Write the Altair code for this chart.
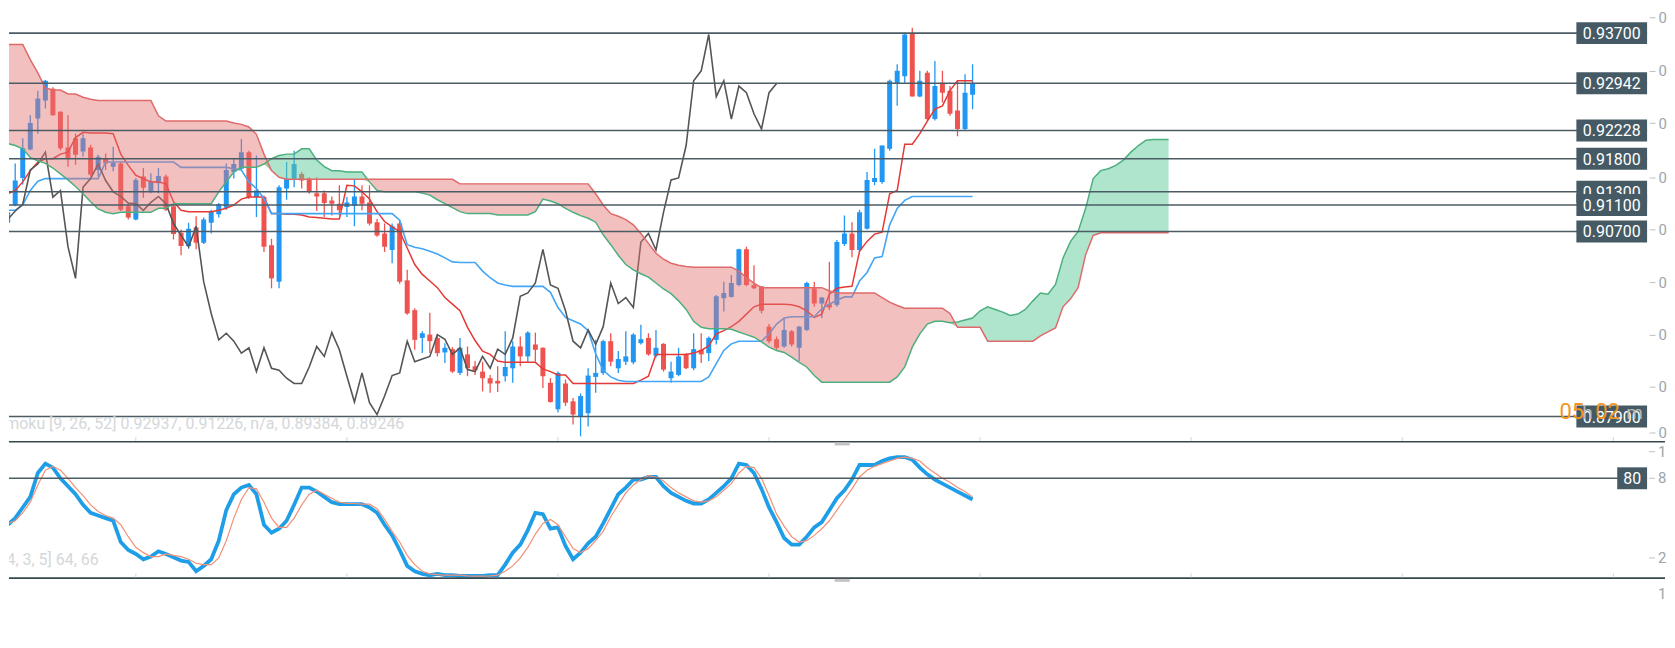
import altair as alt
import pandas as pd

# ---------------- data ----------------
OPEN = [0.9128, 0.9083, 0.9110, 0.9151, 0.9194, 0.9241, 0.9268, 0.9286, 0.9251, 0.9197,
        0.9211, 0.9191, 0.9197, 0.9163, 0.9181, 0.9168, 0.9173, 0.9108, 0.9088, 0.9153,
        0.9131, 0.9143, 0.9153, 0.9108, 0.9068, 0.9048, 0.9076, 0.9053, 0.9083, 0.9096,
        0.9106, 0.9160, 0.9165, 0.9190, 0.9122, 0.9122, 0.9049, 0.8994, 0.9135, 0.9148,
        0.9157, 0.9150, 0.9128, 0.9128, 0.9117, 0.9112, 0.9107, 0.9109, 0.9123, 0.9114,
        0.9084, 0.9067, 0.9042, 0.9082, 0.8996, 0.8951, 0.8909, 0.8914, 0.8909, 0.8887,
        0.8892, 0.8856, 0.8884, 0.8866, 0.8858, 0.8848, 0.8844, 0.8851, 0.8863, 0.8896,
        0.8881, 0.8899, 0.8894, 0.8841, 0.8801, 0.8840, 0.8813, 0.8790, 0.8795, 0.8850,
        0.8856, 0.8904, 0.8863, 0.8873, 0.8872, 0.8901, 0.8909, 0.8882, 0.8900, 0.8848,
        0.8853, 0.8884, 0.8863, 0.8891, 0.8886, 0.8906, 0.8969, 0.8971, 0.8989, 0.9043,
        0.8989, 0.8987, 0.8926, 0.8907, 0.8896, 0.8919, 0.8894, 0.8921, 0.8984, 0.8961,
        0.8960, 0.8959, 0.9051, 0.9067, 0.9042, 0.9074, 0.9145, 0.9145, 0.9195, 0.9293,
        0.9305, 0.9369, 0.9274, 0.9310, 0.9240, 0.9295, 0.9283, 0.9253, 0.9225, 0.9277]
HIGH = [0.9133, 0.9116, 0.9173, 0.9211, 0.9246, 0.9283, 0.9299, 0.9288, 0.9252, 0.9246,
        0.9218, 0.9218, 0.9201, 0.9186, 0.9188, 0.9198, 0.9176, 0.9113, 0.9151, 0.9166,
        0.9158, 0.9166, 0.9156, 0.9111, 0.9073, 0.9083, 0.9093, 0.9091, 0.9103, 0.9113,
        0.9173, 0.9181, 0.9210, 0.9192, 0.9185, 0.9124, 0.9059, 0.9140, 0.9175, 0.9192,
        0.9160, 0.9152, 0.9152, 0.9132, 0.9123, 0.9140, 0.9122, 0.9148, 0.9140, 0.9140,
        0.9089, 0.9082, 0.9082, 0.9087, 0.9012, 0.8954, 0.8919, 0.8947, 0.8914, 0.8901,
        0.8895, 0.8909, 0.8896, 0.8874, 0.8873, 0.8853, 0.8866, 0.8919, 0.8904, 0.8911,
        0.8919, 0.8917, 0.8895, 0.8848, 0.8858, 0.8846, 0.8818, 0.8825, 0.8863, 0.8906,
        0.8906, 0.8916, 0.8889, 0.8919, 0.8916, 0.8929, 0.8916, 0.8921, 0.8901, 0.8873,
        0.8894, 0.8886, 0.8916, 0.8916, 0.8911, 0.8974, 0.8994, 0.9004, 0.9044, 0.9047,
        0.9019, 0.8987, 0.8930, 0.8911, 0.8939, 0.8921, 0.8927, 0.8994, 0.8994, 0.8971,
        0.9024, 0.9057, 0.9094, 0.9084, 0.9103, 0.9160, 0.9195, 0.9200, 0.9300, 0.9323,
        0.9371, 0.9378, 0.9313, 0.9313, 0.9328, 0.9313, 0.9290, 0.9298, 0.9308, 0.9323]
LOW = [0.9096, 0.9078, 0.9108, 0.9141, 0.9193, 0.9218, 0.9256, 0.9245, 0.9193, 0.9168,
       0.9171, 0.9183, 0.9153, 0.9153, 0.9163, 0.9161, 0.9101, 0.9088, 0.9087, 0.9121,
       0.9128, 0.9128, 0.9101, 0.9058, 0.9034, 0.9044, 0.9043, 0.9051, 0.9067, 0.9091,
       0.9103, 0.9150, 0.9162, 0.9119, 0.9092, 0.9039, 0.8984, 0.8984, 0.9118, 0.9137,
       0.9135, 0.9127, 0.9101, 0.9092, 0.9094, 0.9094, 0.9092, 0.9078, 0.9102, 0.9079,
       0.9062, 0.9039, 0.9022, 0.8991, 0.8944, 0.8891, 0.8886, 0.8886, 0.8881, 0.8871,
       0.8856, 0.8853, 0.8851, 0.8853, 0.8828, 0.8826, 0.8827, 0.8843, 0.8841, 0.8866,
       0.8871, 0.8873, 0.8833, 0.8811, 0.8796, 0.8806, 0.8778, 0.8760, 0.8775, 0.8826,
       0.8853, 0.8866, 0.8856, 0.8868, 0.8869, 0.8899, 0.8882, 0.8879, 0.8858, 0.8841,
       0.8851, 0.8862, 0.8860, 0.8871, 0.8874, 0.8899, 0.8949, 0.8970, 0.8987, 0.8987,
       0.8983, 0.8946, 0.8901, 0.8891, 0.8894, 0.8896, 0.8874, 0.8919, 0.8956, 0.8939,
       0.8951, 0.8956, 0.9048, 0.9031, 0.9039, 0.9073, 0.9140, 0.9142, 0.9192, 0.9260,
       0.9295, 0.9274, 0.9273, 0.9238, 0.9238, 0.9265, 0.9245, 0.9214, 0.9222, 0.9255]
CLOSE = [0.9103, 0.9099, 0.9147, 0.9196, 0.9234, 0.9271, 0.9298, 0.9246, 0.9196, 0.9181,
         0.9186, 0.9211, 0.9156, 0.9183, 0.9173, 0.9174, 0.9103, 0.9091, 0.9148, 0.9136,
         0.9146, 0.9154, 0.9103, 0.9066, 0.9048, 0.9074, 0.9053, 0.9088, 0.9101, 0.9111,
         0.9163, 0.9172, 0.9190, 0.9122, 0.9132, 0.9047, 0.8999, 0.9137, 0.9150, 0.9172,
         0.9147, 0.9130, 0.9123, 0.9113, 0.9112, 0.9102, 0.9114, 0.9123, 0.9112, 0.9082,
         0.9064, 0.9047, 0.9078, 0.8994, 0.8946, 0.8906, 0.8916, 0.8904, 0.8886, 0.8894,
         0.8858, 0.8894, 0.8863, 0.8860, 0.8848, 0.8840, 0.8840, 0.8865, 0.8896, 0.8881,
         0.8917, 0.8891, 0.8851, 0.8812, 0.8856, 0.8811, 0.8793, 0.8821, 0.8852, 0.8856,
         0.8904, 0.8873, 0.8877, 0.8881, 0.8914, 0.8907, 0.8884, 0.8894, 0.8861, 0.8858,
         0.8881, 0.8863, 0.8892, 0.8884, 0.8909, 0.8972, 0.8977, 0.8992, 0.9043, 0.8989,
         0.8984, 0.8950, 0.8904, 0.8894, 0.8921, 0.8899, 0.8926, 0.8992, 0.8961, 0.8970,
         0.8955, 0.9054, 0.9067, 0.9042, 0.9099, 0.9148, 0.9151, 0.9200, 0.9298, 0.9313,
         0.9368, 0.9274, 0.9298, 0.9240, 0.9290, 0.9280, 0.9248, 0.9225, 0.9280, 0.9294]
TENKAN = [0.9127, 0.9127, 0.9132, 0.9145, 0.9162, 0.9175, 0.9180, 0.9180, 0.9187, 0.9190,
          0.9212, 0.9220, 0.9219, 0.9219, 0.9219, 0.9218, 0.9187, 0.9170, 0.9155, 0.9150,
          0.9145, 0.9145, 0.9142, 0.9115, 0.9102, 0.9100, 0.9100, 0.9100, 0.9100, 0.9102,
          0.9105, 0.9110, 0.9119, 0.9122, 0.9122, 0.9122, 0.9097, 0.9097, 0.9096, 0.9096,
          0.9095, 0.9092, 0.9091, 0.9090, 0.9089, 0.9089, 0.9140, 0.9139, 0.9130, 0.9119,
          0.9100, 0.9085, 0.9077, 0.9070, 0.9045, 0.9020, 0.9005, 0.8995, 0.8985, 0.8970,
          0.8960, 0.8950, 0.8925, 0.8905, 0.8889, 0.8884, 0.8874, 0.8872, 0.8872, 0.8872,
          0.8872, 0.8872, 0.8862, 0.8858, 0.8853, 0.8853, 0.8840, 0.8840, 0.8840, 0.8840,
          0.8840, 0.8840, 0.8840, 0.8840, 0.8840, 0.8845, 0.8851, 0.8884, 0.8884, 0.8884,
          0.8884, 0.8884, 0.8886, 0.8890, 0.8897, 0.8915, 0.8920, 0.8926, 0.8934, 0.8945,
          0.8956, 0.8960, 0.8960, 0.8960, 0.8960, 0.8959, 0.8956, 0.8950, 0.8940, 0.8945,
          0.8975, 0.8984, 0.8986, 0.8987, 0.9040, 0.9055, 0.9066, 0.9069, 0.9127, 0.9132,
          0.9202, 0.9202, 0.9218, 0.9237, 0.9255, 0.9260, 0.9283, 0.9298, 0.9298, 0.9298]
KIJUN = [0.9102, 0.9102, 0.9102, 0.9110, 0.9132, 0.9146, 0.9150, 0.9150, 0.9150, 0.9150,
         0.9150, 0.9150, 0.9150, 0.9150, 0.9175, 0.9175, 0.9175, 0.9175, 0.9175, 0.9175,
         0.9175, 0.9175, 0.9175, 0.9175, 0.9167, 0.9167, 0.9167, 0.9167, 0.9167, 0.9167,
         0.9167, 0.9165, 0.9163, 0.9145, 0.9135, 0.9120, 0.9097, 0.9097, 0.9097, 0.9097,
         0.9097, 0.9097, 0.9097, 0.9097, 0.9097, 0.9097, 0.9097, 0.9097, 0.9097, 0.9097,
         0.9097, 0.9097, 0.9097, 0.9087, 0.9050, 0.9046, 0.9044, 0.9040, 0.9036, 0.9030,
         0.9024, 0.9023, 0.9023, 0.9023, 0.9010, 0.9000, 0.8992, 0.8989, 0.8987, 0.8987,
         0.8987, 0.8987, 0.8987, 0.8978, 0.8955, 0.8940, 0.8935, 0.8930, 0.8920, 0.8885,
         0.8860, 0.8850, 0.8845, 0.8843, 0.8843, 0.8843, 0.8843, 0.8843, 0.8843, 0.8843,
         0.8843, 0.8843, 0.8843, 0.8843, 0.8850, 0.8870, 0.8890, 0.8900, 0.8904, 0.8904,
         0.8904, 0.8904, 0.8915, 0.8930, 0.8939, 0.8941, 0.8941, 0.8941, 0.8941, 0.8953,
         0.8960, 0.8966, 0.8971, 0.8971, 0.8995, 0.9008, 0.9030, 0.9032, 0.9080, 0.9105,
         0.9117, 0.9123, 0.9123, 0.9123, 0.9123, 0.9123, 0.9123, 0.9123, 0.9123, 0.9123]
SPAN_A = [0.9205, 0.9203, 0.9200, 0.9195, 0.9182, 0.9177, 0.9173, 0.9166, 0.9157, 0.9148,
          0.9138, 0.9127, 0.9115, 0.9104, 0.9099, 0.9097, 0.9099, 0.9099, 0.9099, 0.9099,
          0.9099, 0.9105, 0.9105, 0.9112, 0.9112, 0.9112, 0.9112, 0.9112, 0.9112, 0.9130,
          0.9145, 0.9160, 0.9167, 0.9167, 0.9167, 0.9172, 0.9180, 0.9185, 0.9187, 0.9187,
          0.9195, 0.9195, 0.9178, 0.9168, 0.9162, 0.9162, 0.9160, 0.9160, 0.9160, 0.9145,
          0.9132, 0.9130, 0.9130, 0.9130, 0.9130, 0.9130, 0.9128, 0.9125, 0.9118, 0.9112,
          0.9106, 0.9100, 0.9097, 0.9097, 0.9097, 0.9097, 0.9095, 0.9095, 0.9095, 0.9095,
          0.9095, 0.9100, 0.9119, 0.9116, 0.9112, 0.9105, 0.9099, 0.9094, 0.9090, 0.9084,
          0.9065, 0.9050, 0.9034, 0.9020, 0.9012, 0.9006, 0.9001, 0.8992, 0.8983, 0.8976,
          0.8965, 0.8952, 0.8934, 0.8925, 0.8923, 0.8923, 0.8923, 0.8922, 0.8918, 0.8914,
          0.8910, 0.8903, 0.8895, 0.8890, 0.8887, 0.8880, 0.8872, 0.8865, 0.8852, 0.8842,
          0.8842, 0.8842, 0.8842, 0.8842, 0.8842, 0.8842, 0.8842, 0.8842, 0.8842, 0.8850,
          0.8865, 0.8895, 0.8915, 0.8930, 0.8934, 0.8934, 0.8932, 0.8933, 0.8936, 0.8939,
          0.8950, 0.8956, 0.8952, 0.8948, 0.8943, 0.8945, 0.8952, 0.8965, 0.8977, 0.8975,
          0.8990, 0.9030, 0.9055, 0.9070, 0.9105, 0.9150, 0.9162, 0.9165, 0.9170, 0.9178,
          0.9190, 0.9200, 0.9208, 0.9209, 0.9209, 0.9209]
SPAN_B = [0.9353, 0.9353, 0.9353, 0.9353, 0.9330, 0.9310, 0.9287, 0.9284, 0.9284, 0.9278,
          0.9278, 0.9273, 0.9270, 0.9268, 0.9268, 0.9268, 0.9268, 0.9268, 0.9268, 0.9268,
          0.9268, 0.9245, 0.9237, 0.9237, 0.9237, 0.9237, 0.9237, 0.9237, 0.9237, 0.9237,
          0.9237, 0.9234, 0.9232, 0.9228, 0.9217, 0.9187, 0.9162, 0.9152, 0.9149, 0.9149,
          0.9149, 0.9149, 0.9149, 0.9149, 0.9149, 0.9149, 0.9149, 0.9149, 0.9149, 0.9149,
          0.9149, 0.9149, 0.9149, 0.9149, 0.9149, 0.9149, 0.9149, 0.9149, 0.9149, 0.9149,
          0.9149, 0.9142, 0.9142, 0.9142, 0.9142, 0.9142, 0.9142, 0.9142, 0.9142, 0.9142,
          0.9142, 0.9142, 0.9142, 0.9142, 0.9142, 0.9142, 0.9142, 0.9142, 0.9142, 0.9127,
          0.9110, 0.9097, 0.9093, 0.9088, 0.9080, 0.9067, 0.9052, 0.9037, 0.9028, 0.9022,
          0.9019, 0.9017, 0.9016, 0.9016, 0.9016, 0.9016, 0.9016, 0.9016, 0.9010, 0.9000,
          0.8992, 0.8985, 0.8985, 0.8985, 0.8985, 0.8985, 0.8985, 0.8985, 0.8985, 0.8985,
          0.8980, 0.8977, 0.8977, 0.8977, 0.8977, 0.8977, 0.8977, 0.8970, 0.8963, 0.8958,
          0.8954, 0.8954, 0.8954, 0.8954, 0.8954, 0.8954, 0.8946, 0.8925, 0.8925, 0.8925,
          0.8925, 0.8904, 0.8904, 0.8904, 0.8904, 0.8904, 0.8904, 0.8904, 0.8912, 0.8918,
          0.8924, 0.8956, 0.8968, 0.8985, 0.9035, 0.9064, 0.9068, 0.9068, 0.9068, 0.9068,
          0.9068, 0.9068, 0.9068, 0.9068, 0.9068, 0.9068]
STOCH_K = [45, 45, 50, 58, 66, 84, 91, 88, 80, 74,
           68, 60, 54, 52, 50, 48, 32, 26, 23, 19,
           21, 25, 23, 20.5, 18, 17, 10, 14, 19, 33,
           56, 68, 73, 75, 68, 45, 39, 42, 48, 60,
           73, 73, 70, 66, 62, 60.5, 60.5, 60.5, 60.5, 58,
           54, 45, 37, 26, 14, 10, 8, 7, 8, 7,
           7, 6.5, 6.5, 6.5, 6.5, 7, 7, 15, 24, 30,
           41, 54, 53, 42, 43, 29, 19, 24, 31, 36,
           46, 57, 68, 73, 79, 79, 81, 81, 74, 69,
           66, 63, 61, 61, 64, 69, 74, 80, 91, 90,
           84, 72, 58, 47, 35, 30, 30, 36, 43, 47,
           56, 65, 71, 79, 90, 90, 90, 93, 95, 96,
           96, 94, 88, 83, 79, 76, 73, 70, 67, 64]
STOCH_D = [45, 46, 48, 54, 62, 75, 86, 89, 86, 80,
           73, 67, 60, 55, 52, 50, 45, 36, 28, 24,
           21, 21, 23, 22, 21, 19, 16, 15, 15, 20,
           33, 50, 64, 73, 72, 62, 50, 43, 43, 50,
           60, 68, 71, 68, 65, 62, 61, 61, 60.5, 60.5,
           57, 49, 40, 32, 22, 15, 10, 8, 7.5, 7,
           7, 7, 6.5, 6.3, 6.3, 6.5, 7, 10, 14, 20,
           28, 38, 46, 49, 45, 36, 27, 24, 27, 33,
           40, 51, 60, 69, 75, 79, 82, 81, 78, 73,
           69, 66, 63, 62, 63, 66, 71, 76, 84, 89,
           88, 80, 67, 53, 44, 36, 32, 33, 37, 42,
           48, 56, 64, 72, 81, 86, 89, 91, 93, 95,
           96, 95, 93, 88, 84, 80, 77, 73, 70, 66]

LEVELS = [0.937, 0.92942, 0.92228, 0.918, 0.913, 0.907, 0.879]
LEVEL_LABELS = ["0.93700", "0.92942", "0.92228", "0.91800", "0.91300", "0.90700", "0.87900"]
TOP_LEVEL = [0.911]
TOP_LEVEL_LABEL = ["0.91100"]
PRICE_TICKS = [0.9394, 0.9313, 0.9234, 0.9152, 0.9073, 0.8993, 0.8914, 0.8835, 0.8766]
STOCH_LEVEL = [80]
STOCH_TICKS = [100, 80, 20]
STOCH_TICK_LABELS = ["1", "8", "2"]
STOCH_EXTRA_LABEL = [-7]
STOCH_EXTRA_TEXT = ["1"]
X_TICKS = [18, 46, 74, 102, 130, 158, 186, 214]
NOW_MARK = [110.7]
NOW_MARK_END = [112.7]
CHIKOU_SHIFT = 26

ICHI_TEXT = "Ichimoku [9, 26, 52] 0.92937, 0.91226, n/a, 0.89384, 0.89246"
STOCH_TEXT = "Stochastic [14, 3, 5] 64, 66"

# ---------------- layout / style ----------------
W, H = 1647, 600
X_DOMAIN = [1.1757, 218.74]
PRICE_DOMAIN = [0.850227, 0.940616]
STOCH_DOMAIN = [-16.75, 433.25]

BLUE = "#2196f3"
RED = "#ef5350"
LEVEL_COLOR = "#4c5c65"
BOX_COLOR = "#455a64"
AXIS_GRAY = "#9aa6ad"
LEGEND_GRAY = "#d4d7da"
FONT = "Roboto"

n = len(CLOSE)
candles = pd.DataFrame({
    "i": list(range(n)), "open": OPEN, "high": HIGH, "low": LOW, "close": CLOSE,
    "tenkan": TENKAN, "kijun": KIJUN, "k": STOCH_K, "d": STOCH_D,
    "chikou": [CLOSE[j + CHIKOU_SHIFT] if j + CHIKOU_SHIFT < n else None for j in range(n)],
})
cloud = pd.DataFrame({"i": list(range(len(SPAN_A))), "a": SPAN_A, "b": SPAN_B})
levels = pd.DataFrame({"p": LEVELS, "lab": LEVEL_LABELS})
top_level = pd.DataFrame({"p": TOP_LEVEL, "lab": TOP_LEVEL_LABEL})
stoch_lvl = pd.DataFrame({"v": STOCH_LEVEL, "lab": [str(v) for v in STOCH_LEVEL]})
stoch_ticks = pd.DataFrame({"v": STOCH_TICKS, "lab": STOCH_TICK_LABELS})
stoch_extra = pd.DataFrame({"v": STOCH_EXTRA_LABEL, "lab": STOCH_EXTRA_TEXT})
xticks = pd.DataFrame({"i": X_TICKS})
nowmark = pd.DataFrame({"i": NOW_MARK, "i2": NOW_MARK_END})
one = pd.DataFrame({"z": [0]})

xs = alt.Scale(domain=X_DOMAIN, nice=False, zero=False)
ps = alt.Scale(domain=PRICE_DOMAIN, nice=False, zero=False)
ss = alt.Scale(domain=STOCH_DOMAIN, nice=False, zero=False)


def X(f="i"):
    return alt.X(f"{f}:Q", scale=xs, axis=None)


def P(f, axis=None):
    return alt.Y(f"{f}:Q", scale=ps, axis=axis)


def S(f):
    return alt.Y(f"{f}:Q", scale=ss, axis=None)


bull = alt.condition("datum.close >= datum.open", alt.value(BLUE), alt.value(RED))

price_axis = alt.Axis(orient="right", values=PRICE_TICKS, labelExpr="substring(datum.label, 0, 1)",
                      grid=False, domain=False, tickSize=6, tickColor="#b9c3c9", labelColor=AXIS_GRAY,
                      labelFontSize=15, labelPadding=3, labelFont=FONT, title=None)

base = alt.Chart(candles)
wicks = base.mark_rule(strokeWidth=1.3, clip=True).encode(x=X(), y=P("low", price_axis), y2="high:Q", color=bull)
bodies = base.mark_rule(strokeWidth=5, strokeCap="butt", clip=True).encode(x=X(), y=P("open"), y2="close:Q", color=bull)
tenkan = base.mark_line(color="#e53935", strokeWidth=1.5, clip=True).encode(x=X(), y=P("tenkan"))
kijun = base.mark_line(color="#42a5f5", strokeWidth=1.6, clip=True).encode(x=X(), y=P("kijun"))
chikou = base.transform_filter("isValid(datum.chikou)").mark_line(
    color="#555555", strokeWidth=1.6, clip=True).encode(x=X(), y=P("chikou"))

cbase = alt.Chart(cloud).transform_calculate(lo="min(datum.a, datum.b)")
red_cloud = cbase.mark_area(color="#e57373", opacity=0.45, clip=True).encode(x=X(), y=P("b"), y2="lo:Q")
green_cloud = cbase.mark_area(color="#5fcb9c", opacity=0.5, clip=True).encode(x=X(), y=P("a"), y2="lo:Q")
span_a = alt.Chart(cloud).mark_line(color="#4caf7d", strokeWidth=1.5, clip=True).encode(x=X(), y=P("a"))
span_b = alt.Chart(cloud).mark_line(color="#e06a6a", strokeWidth=1.5, clip=True).encode(x=X(), y=P("b"))

stoch_k = base.mark_line(color="#1f9ee8", strokeWidth=3.8, clip=True).encode(x=X(), y=S("k"))
stoch_d = base.mark_line(color="#f29077", strokeWidth=1.2, clip=True).encode(x=X(), y=S("d"))


def level_layers(df):
    lines = alt.Chart(df).mark_rule(color=LEVEL_COLOR, strokeWidth=1.6).encode(
        y=P("p"), x=alt.value(0), x2=alt.value(W - 2))
    boxes = alt.Chart(df).mark_rule(color=BOX_COLOR, strokeWidth=22, strokeCap="butt").encode(
        y=P("p"), x=alt.value(W - 73), x2=alt.value(W - 2))
    texts = alt.Chart(df).mark_text(color="white", fontSize=16, font=FONT, align="center",
                                    baseline="middle", dy=1).encode(
        y=P("p"), x=alt.value(W - 37.5), text="lab:N")
    return [lines, boxes, texts]


stoch_line = alt.Chart(stoch_lvl).mark_rule(color=LEVEL_COLOR, strokeWidth=1.6).encode(
    y=S("v"), x=alt.value(0), x2=alt.value(W - 2))
stoch_box = alt.Chart(stoch_lvl).mark_rule(color=BOX_COLOR, strokeWidth=22, strokeCap="butt").encode(
    y=S("v"), x=alt.value(W - 32), x2=alt.value(W - 2))
stoch_box_text = alt.Chart(stoch_lvl).mark_text(color="white", fontSize=16, font=FONT, align="center",
                                               baseline="middle", dy=1).encode(
    y=S("v"), x=alt.value(W - 17), text="lab:N")
stoch_tick_marks = alt.Chart(stoch_ticks).mark_rule(color="#b9c3c9", strokeWidth=1).encode(
    y=S("v"), x=alt.value(W), x2=alt.value(W + 6))
stoch_tick_text = alt.Chart(stoch_ticks).mark_text(color=AXIS_GRAY, fontSize=15, font=FONT, align="left",
                                                  baseline="middle").encode(
    y=S("v"), x=alt.value(W + 9), text="lab:N")
stoch_extra_text = alt.Chart(stoch_extra).mark_text(color=AXIS_GRAY, fontSize=15, font=FONT, align="left",
                                                   baseline="middle").encode(
    y=S("v"), x=alt.value(W + 9), text="lab:N")

sep1 = alt.Chart(one).mark_rule(color="#37474f", strokeWidth=1.6).encode(
    y=alt.value(434.3), x=alt.value(0), x2=alt.value(W + 16))
sep2 = alt.Chart(one).mark_rule(color="#37474f", strokeWidth=1.6).encode(
    y=alt.value(571.3), x=alt.value(0), x2=alt.value(W + 16))
xt1 = alt.Chart(xticks).mark_rule(color="#cfd8dc", strokeWidth=1, clip=True).encode(
    x=X(), y=alt.value(429.5), y2=alt.value(433.5))
xt2 = alt.Chart(xticks).mark_rule(color="#cfd8dc", strokeWidth=1, clip=True).encode(
    x=X(), y=alt.value(566.5), y2=alt.value(570.5))
nm1 = alt.Chart(nowmark).mark_rule(color="#c4c4c4", strokeWidth=3).encode(
    x=X(), x2="i2:Q", y=alt.value(436.5))
nm2 = alt.Chart(nowmark).mark_rule(color="#c4c4c4", strokeWidth=3).encode(
    x=X(), x2="i2:Q", y=alt.value(573.5))

ichi_text = alt.Chart(one).mark_text(text=ICHI_TEXT, color=LEGEND_GRAY, fontSize=16, font=FONT,
                                     align="right", baseline="middle", clip=True).encode(
    x=alt.value(397), y=alt.value(417))
stoch_text = alt.Chart(one).mark_text(text=STOCH_TEXT, color=LEGEND_GRAY, fontSize=16, font=FONT,
                                      align="right", baseline="middle", clip=True).encode(
    x=alt.value(90), y=alt.value(553))

t05 = alt.Chart(one).mark_text(text="05", color="#f0961e", fontSize=22, font=FONT, align="left",
                               baseline="alphabetic").encode(x=alt.value(1557), y=alt.value(411))
th = alt.Chart(one).mark_text(text="h", color="#b8b8b8", fontSize=19, font=FONT, align="left",
                              baseline="alphabetic").encode(x=alt.value(1580), y=alt.value(411))
t02 = alt.Chart(one).mark_text(text="02", color="#f0961e", fontSize=22, font=FONT, align="left",
                               baseline="alphabetic").encode(x=alt.value(1593), y=alt.value(411))
tm = alt.Chart(one).mark_text(text="m", color="#b8b8b8", fontSize=19, font=FONT, align="left",
                              baseline="alphabetic").encode(x=alt.value(1624), y=alt.value(411))

layers = ([wicks, bodies, tenkan, kijun, chikou, red_cloud, green_cloud, span_a, span_b,
           stoch_k, stoch_d]
          + level_layers(levels) + level_layers(top_level)
          + [stoch_line, stoch_box, stoch_box_text, stoch_tick_marks, stoch_tick_text, stoch_extra_text,
             sep1, sep2, xt1, xt2, nm1, nm2, ichi_text, stoch_text, t05, th, t02, tm])

chart = alt.layer(*layers).resolve_scale(y="independent").properties(
    width=W, height=H, padding=0, background="white"
).configure_view(stroke=None)

chart.save("out.html", embed_options={"renderer": "svg", "actions": False})
